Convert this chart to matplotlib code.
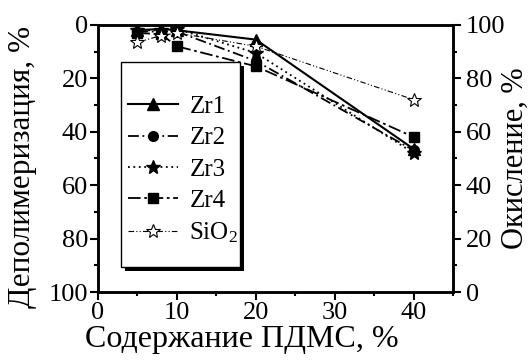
import matplotlib.pyplot as plt
from matplotlib.patches import Rectangle
from matplotlib.ticker import MultipleLocator

plt.rcParams['font.family'] = ['Liberation Serif', 'DejaVu Serif']
plt.rcParams['mathtext.default'] = 'regular'

# PDMS content, %
pdms = [5, 8, 10, 20, 40]

# depolymerization, %
zr1 = [2.0, 1.5, 2.0, 5.5, 46.5]
zr2 = [2.5, 2.5, 2.5, 13.5, 47.0]
zr3 = [2.0, 2.0, 1.5, 10.5, 48.0]
zr4 = [3.0, 3.5, 8.0, 15.5, 42.0]
sio2 = [6.5, 4.0, 3.0, 8.0, 28.0]

labels = ['Zr1', 'Zr2', 'Zr3', 'Zr4', 'SiO$_2$']

fig = plt.figure(figsize=(5.29, 3.61), dpi=100)
ax = fig.add_axes([0.185, 0.191, 0.672, 0.740])

ax.plot(pdms, zr1, color='black', lw=1.5, ls='-', marker='^', ms=8, label=labels[0])
ax.plot(pdms, zr2, color='black', lw=1.3, ls=(0, (6, 2, 1, 2)), marker='o', ms=7, label=labels[1])
ax.plot(pdms, zr3, color='black', lw=1.3, ls=(0, (1, 2)), marker='*', ms=10, label=labels[2])
ax.plot(pdms, zr4, color='black', lw=1.3, ls=(0, (7, 2, 1.5, 2)), marker='s', ms=7, label=labels[3])
ax.plot(pdms, sio2, color='black', lw=0.8, ls=(0, (5, 2, 1, 2, 1, 2)), marker='*', ms=10,
        mfc='white', mew=0.8, label=labels[4])

ax.set_xlim(0, 45)
ax.set_ylim(100, 0)
ax.xaxis.set_major_locator(MultipleLocator(10))
ax.xaxis.set_minor_locator(MultipleLocator(5))
ax.yaxis.set_major_locator(MultipleLocator(20))
ax.yaxis.set_minor_locator(MultipleLocator(10))
ax.tick_params(which='both', direction='out', width=1.5, labelsize=19, pad=1)
ax.tick_params(which='major', length=6)
ax.tick_params(which='minor', length=3)
for s in ax.spines.values():
    s.set_linewidth(1.8)

ax.set_xlabel('Содержание ПДМС, %', fontsize=23)
ax.xaxis.set_label_coords(0.405, -0.125)
ax.set_ylabel('Деполимеризация, %', fontsize=22.5)
ax.yaxis.set_label_coords(-0.172, 0.47)

ax2 = ax.twinx()
ax2.set_ylim(0, 100)
ax2.yaxis.set_major_locator(MultipleLocator(20))
ax2.yaxis.set_minor_locator(MultipleLocator(10))
ax2.tick_params(which='both', direction='out', width=1.5, labelsize=19, pad=3)
ax2.tick_params(which='major', length=6)
ax2.tick_params(which='minor', length=3)
for s in ax2.spines.values():
    s.set_linewidth(1.8)
ax2.set_ylabel('Окисление, %', fontsize=22)
ax2.yaxis.set_label_coords(1.133, 0.5)

# legend box with a solid black shadow, drawn as patches
box = (0.065, 0.094, 0.335, 0.767)
ax.add_patch(Rectangle((box[0] + 0.011, box[1] - 0.015), box[2], box[3],
                       transform=ax.transAxes, facecolor='black', edgecolor='none', zorder=4))
ax.add_patch(Rectangle((box[0], box[1]), box[2], box[3], transform=ax.transAxes,
                       facecolor='white', edgecolor='black', lw=1.0, zorder=5))

leg = ax.legend(loc='upper left', bbox_to_anchor=(0.085, 0.735), fontsize=18,
                frameon=False, handlelength=2.0, handletextpad=0.45,
                labelspacing=0.35, borderpad=0, borderaxespad=0)
leg.set_zorder(6)

fig.savefig('out.png', dpi=100)
